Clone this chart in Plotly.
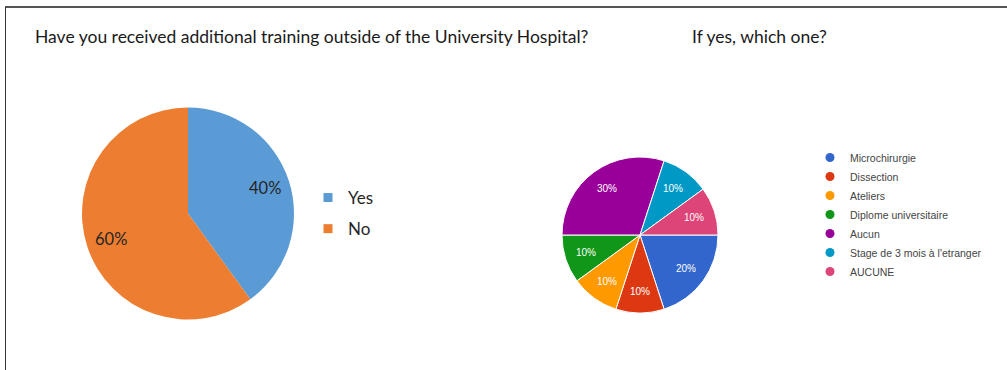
import math
import plotly.graph_objects as go

W, H = 1007, 370

# ---- data ----
q1_labels = ["Yes", "No"]
q1_values = [40, 60]
q1_colors = ["#5B9BD5", "#ED7D31"]

q2_labels = ["Microchirurgie", "Dissection", "Ateliers", "Diplome universitaire",
             "Aucun", "Stage de 3 mois à l'etranger", "AUCUNE"]
q2_values = [2, 1, 1, 1, 3, 1, 1]
q2_colors = ["#3366CC", "#DC3912", "#FF9900", "#109618", "#990099", "#0099C6", "#DD4477"]

title1 = "Have you received additional training outside of the University Hospital?"
title2 = "If yes, which one?"


def px(x):
    return x / W


def py(y):  # y measured from top in pixels
    return 1 - y / H


# pie geometry (pixels)
p1 = dict(left=82, right=294, top=107, bottom=320)
p2 = dict(left=562, right=718, top=157, bottom=313)


def pie_labels(values, box, start_deg, rfrac, font):
    cx = (box["left"] + box["right"]) / 2
    cy = (box["top"] + box["bottom"]) / 2
    r = (box["right"] - box["left"]) / 2
    total = sum(values)
    cum = 0
    out = []
    for v in values:
        mid = math.radians(start_deg) + (cum + v / 2) / total * 2 * math.pi
        cum += v
        lx = cx + rfrac * r * math.sin(mid)
        ly = cy - rfrac * r * math.cos(mid)
        out.append(dict(
            text=f"{round(100 * v / total)}%", x=px(lx), y=py(ly), xref="paper", yref="paper",
            xanchor="center", yanchor="middle", showarrow=False, font=font))
    return out


fig = go.Figure()

fig.add_trace(go.Pie(
    labels=q1_labels, values=q1_values, sort=False, direction="clockwise", rotation=0,
    marker=dict(colors=q1_colors, line=dict(color="white", width=0)),
    textinfo="none",
    domain=dict(x=[px(p1["left"]), px(p1["right"])], y=[py(p1["bottom"]), py(p1["top"])]),
    showlegend=False, hoverinfo="label+percent",
))

fig.add_trace(go.Pie(
    labels=q2_labels, values=q2_values, sort=False, direction="clockwise", rotation=90,
    marker=dict(colors=q2_colors, line=dict(color="white", width=1)),
    textinfo="none",
    domain=dict(x=[px(p2["left"]), px(p2["right"])], y=[py(p2["bottom"]), py(p2["top"])]),
    showlegend=False, hoverinfo="label+percent",
))

# legend entries (square for Q1, circle for Q2)
for lab, col in zip(q1_labels, q1_colors):
    fig.add_trace(go.Scatter(
        x=[None], y=[None], mode="markers", name=lab, legend="legend",
        legendgroup=lab,
        marker=dict(symbol="square", size=9, color=col),
    ))
for lab, col in zip(q2_labels, q2_colors):
    fig.add_trace(go.Scatter(
        x=[None], y=[None], mode="markers", name=lab, legend="legend2",
        marker=dict(symbol="circle", size=9, color=col),
    ))

annos = pie_labels(q1_values, p1, 0, 0.765,
                   dict(family="Lato, Open Sans, sans-serif", size=16.5, color="#262626"))
annos += pie_labels(q2_values, p2, 90, 0.73,
                    dict(family="Arial, Liberation Sans, sans-serif", size=10, color="white"))

fig.update_layout(
    width=W, height=H,
    margin=dict(l=0, r=0, t=0, b=0),
    paper_bgcolor="white", plot_bgcolor="white",
    xaxis=dict(visible=False), yaxis=dict(visible=False),
    legend=dict(
        x=px(308), y=py(180), xanchor="left", yanchor="top",
        font=dict(family="Lato, Open Sans, sans-serif", size=17, color="#262626"),
        bgcolor="rgba(0,0,0,0)", traceorder="grouped", tracegroupgap=6,
        itemclick=False, itemdoubleclick=False,
    ),
    legend2=dict(
        x=px(810), y=py(143), xanchor="left", yanchor="top",
        font=dict(family="Arial, Liberation Sans, sans-serif", size=10.5, color="#444444"),
        bgcolor="rgba(0,0,0,0)",
        itemclick=False, itemdoubleclick=False,
    ),
    annotations=[
        dict(text=title1, x=px(33), y=py(37), xref="paper", yref="paper",
             xanchor="left", yanchor="middle", showarrow=False,
             font=dict(family="Lato, Open Sans, sans-serif", size=17.5, color="#1a1a1a")),
        dict(text=title2, x=px(690), y=py(37), xref="paper", yref="paper",
             xanchor="left", yanchor="middle", showarrow=False,
             font=dict(family="Lato, Open Sans, sans-serif", size=17.5, color="#1a1a1a")),
    ] + annos,
    shapes=[
        dict(type="line", xref="paper", yref="paper", x0=px(5), x1=1, y0=py(7), y1=py(7),
             line=dict(color="#555555", width=2)),
        dict(type="line", xref="paper", yref="paper", x0=px(5.5), x1=px(5.5), y0=py(7), y1=0,
             line=dict(color="#333333", width=1)),
    ],
)

fig.write_html("out.html",
               config={"displayModeBar": False},
               post_script="document.body.style.margin='0';document.body.style.overflow='hidden';")
